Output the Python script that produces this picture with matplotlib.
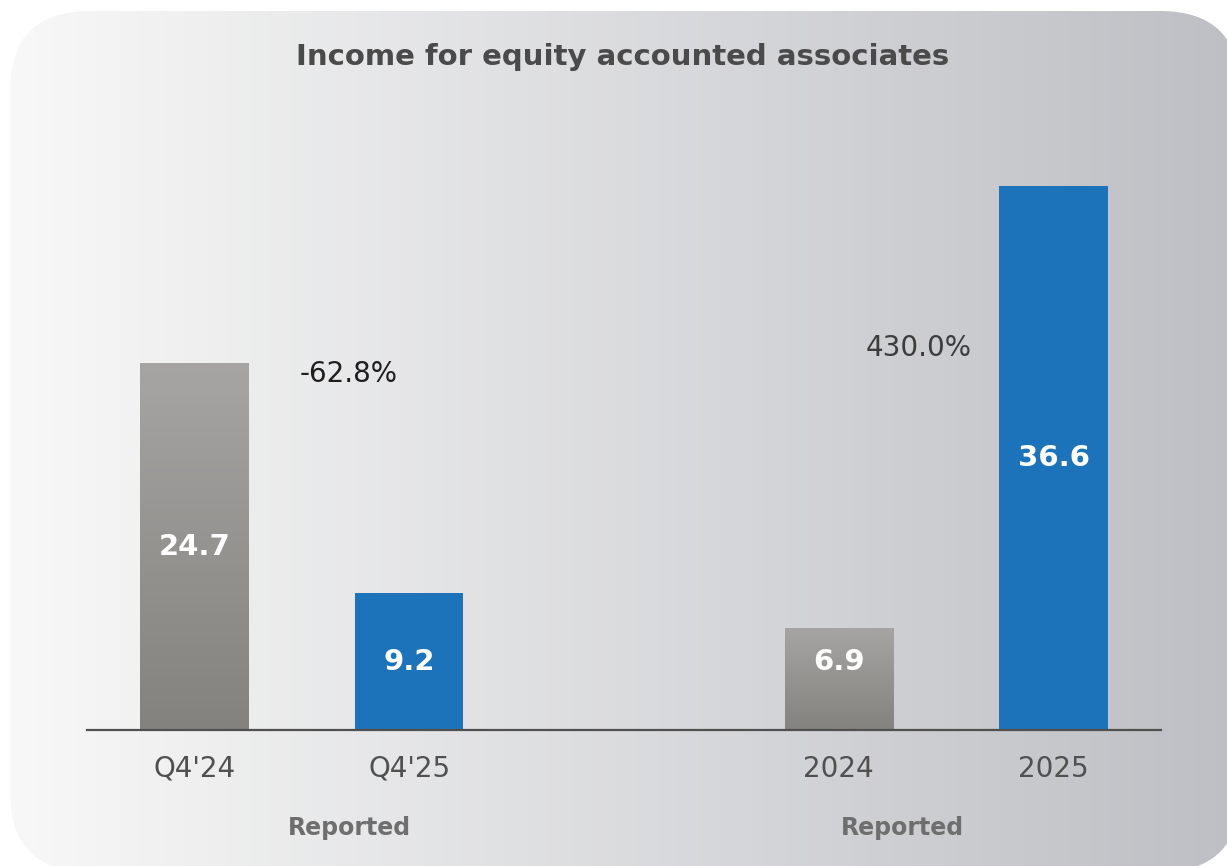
import numpy as np
import matplotlib
matplotlib.use("Agg")
import matplotlib.pyplot as plt
from matplotlib.patches import FancyBboxPatch

# data
categories = ["Q4'24", "Q4'25", "2024", "2025"]
values = [24.7, 9.2, 6.9, 36.6]
positions = [0, 1, 3, 4]
is_current = [False, True, False, True]
changes = ["-62.8%", "430.0%"]
group_label = "Reported"
title = "Income for equity accounted associates"

blue = "#1d73b9"
grey_top = np.array([166, 165, 163]) / 255
grey_bot = np.array([131, 130, 126]) / 255

plt.rcParams['font.family'] = ['DejaVu Sans']
fig = plt.figure(figsize=(12.27, 8.66), dpi=100)

# background card with horizontal gradient
bg = fig.add_axes([0, 0, 1, 1])
bg.axis("off")
left_c = np.array([248, 248, 248]) / 255
right_c = np.array([190, 191, 196]) / 255
t = np.linspace(0, 1, 256)
grad = left_c[None, :] * (1 - t[:, None]) + right_c[None, :] * t[:, None]
card = FancyBboxPatch((10, 11), 1230, 861, boxstyle="round,pad=0,rounding_size=80",
                      facecolor="none", edgecolor="none")
bg.add_patch(card)
im = bg.imshow(grad[None, :, :], extent=[10, 1240, 872, 11], aspect="auto", zorder=0)
im.set_clip_path(card)
bg.set_xlim(0, 1227)
bg.set_ylim(866, 0)

bg.text(623, 57, title, ha="center", va="center", fontsize=21, fontweight="bold", color="#4a4a4b")

# chart
ax = fig.add_axes([87 / 1227, 136 / 866, 1074 / 1227, 594 / 866])
ax.patch.set_alpha(0)

bars = ax.bar(positions, values, width=0.505, color=[blue if c else "none" for c in is_current],
              zorder=2)
vgrad = grey_top[None, :] * (1 - t[:, None]) + grey_bot[None, :] * t[:, None]
for b, cur in zip(bars, is_current):
    if not cur:
        x0 = b.get_x()
        gi = ax.imshow(vgrad[:, None, :], extent=[x0, x0 + b.get_width(), 0, b.get_height()],
                       aspect="auto", zorder=1)
        gi.set_clip_path(b)
ax.set_xlim(-0.5, 4.5)
ax.set_ylim(0, 40)

for p, v in zip(positions, values):
    ax.text(p, max(v / 2, 4.6), f"{v:.1f}", ha="center", va="center", color="white",
            fontsize=21, fontweight="bold", zorder=3)

for s in ["top", "right", "left"]:
    ax.spines[s].set_visible(False)
ax.spines["bottom"].set_color("#505050")
ax.spines["bottom"].set_linewidth(1.6)
ax.set_yticks([])
ax.set_xticks(positions)
ax.set_xticklabels(categories, fontsize=20, color="#505050")
ax.tick_params(axis="x", length=0, pad=18)

# change labels
ax.text(0.72, 24.0, changes[0], ha="center", va="center", fontsize=20, color="#1e1e1e")
ax.text(3.37, 25.7, changes[1], ha="center", va="center", fontsize=20, color="#3c3c3c")

# group labels
bg.text(349, 828, group_label, ha="center", va="center", fontsize=17, fontweight="bold", color="#6e6e6e")
bg.text(902, 828, group_label, ha="center", va="center", fontsize=17, fontweight="bold", color="#6e6e6e")

fig.savefig("out.png", dpi=100)
